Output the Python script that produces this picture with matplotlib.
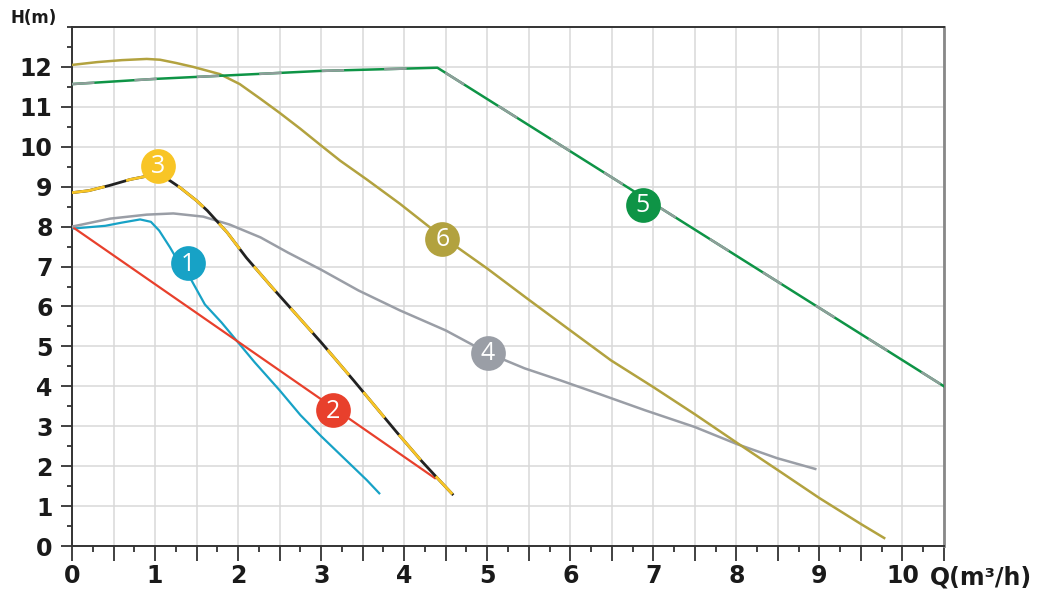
import matplotlib
matplotlib.use("Agg")
import matplotlib.pyplot as plt
from matplotlib.ticker import MultipleLocator

# pump curves, Q (m3/h) vs H (m)
q1 = [0, 0.4, 0.6, 0.82, 0.95, 1.05, 1.18, 1.3, 1.44, 1.6, 1.8, 1.96, 2.2, 2.5, 2.75, 3.0, 3.2, 3.4, 3.55, 3.7]
h1 = [7.95, 8.02, 8.1, 8.18, 8.12, 7.9, 7.48, 7.05, 6.65, 6.05, 5.6, 5.2, 4.6, 3.9, 3.28, 2.75, 2.35, 1.95, 1.65, 1.32]

q2 = [0, 4.37]
h2 = [8.0, 1.7]

q3 = [0, 0.2, 0.45, 0.7, 0.94, 1.05, 1.18, 1.3, 1.5, 1.63, 1.87, 2.1, 2.4, 2.7, 3.0, 3.39, 3.65, 3.91, 4.2, 4.4, 4.58]
h3 = [8.85, 8.9, 9.03, 9.18, 9.28, 9.3, 9.15, 8.98, 8.65, 8.4, 7.85, 7.22, 6.5, 5.8, 5.1, 4.15, 3.5, 2.85, 2.15, 1.7, 1.3]

q4 = [0, 0.46, 0.9, 1.22, 1.58, 1.9, 2.27, 2.6, 3.0, 3.45, 3.95, 4.5, 5.01, 5.45, 5.88, 6.36, 6.9, 7.5, 8.01, 8.49, 8.95]
h4 = [8.0, 8.2, 8.3, 8.33, 8.25, 8.05, 7.73, 7.35, 6.92, 6.4, 5.9, 5.4, 4.83, 4.45, 4.15, 3.8, 3.4, 2.98, 2.55, 2.2, 1.93]

q5 = [0, 1.0, 2.0, 3.0, 4.4, 10.5]
h5 = [11.57, 11.7, 11.8, 11.9, 11.98, 4.0]

q6 = [0, 0.3, 0.6, 0.9, 1.06, 1.25, 1.46, 1.78, 2.02, 2.27, 2.5, 2.75, 3.0, 3.23, 3.55, 3.95, 4.31,
      4.64, 5.0, 5.48, 6.0, 6.49, 7.0, 7.5, 8.01, 8.5, 9.0, 9.5, 9.78]
h6 = [12.05, 12.12, 12.17, 12.2, 12.18, 12.1, 12.0, 11.82, 11.57, 11.2, 10.85, 10.45, 10.03, 9.65, 9.18, 8.57, 7.98,
      7.48, 6.95, 6.2, 5.4, 4.65, 3.98, 3.3, 2.58, 1.9, 1.2, 0.55, 0.2]

# numbered badges
badge_labels = ["1", "2", "3", "4", "5", "6"]
badge_q = [1.4, 3.14, 1.04, 5.01, 6.87, 4.46]
badge_h = [7.08, 3.4, 9.52, 4.83, 8.55, 7.7]
badge_colors = ["#17a2c6", "#e8402c", "#f8c526", "#9a9ea6", "#0e9446", "#b2a23f"]

x_labels = [str(i) for i in range(11)]

fig = plt.figure(figsize=(10.38, 5.91), dpi=100)
ax = fig.add_axes([72 / 1038, 45 / 591, 872 / 1038, 519 / 591])

ax.plot(q1, h1, color="#17a2c6", lw=1.6, zorder=3)
ax.plot(q2, h2, color="#e8402c", lw=1.6, zorder=3)
ax.plot(q4, h4, color="#9a9ea6", lw=1.8, zorder=3)
ax.plot(q6, h6, color="#b2a23f", lw=1.8, zorder=3)
# curve 5: green with grey dashes over it
ax.plot(q5, h5, color="#0e9446", lw=1.8, zorder=3)
ax.plot(q5, h5, color="#8e9e9a", lw=1.8, dashes=(9, 16), zorder=3)
# curve 3: black with yellow dashes
ax.plot(q3, h3, color="#222222", lw=2.0, zorder=3)
ax.plot(q3, h3, color="#f8c526", lw=2.0, dashes=(12, 8), zorder=3)

for lab, q, h, c in zip(badge_labels, badge_q, badge_h, badge_colors):
    ax.plot(q, h, "o", ms=25, color=c, mec="none", zorder=5)
    ax.text(q, h - 0.02, lab, color="white", fontsize=18, ha="center", va="center",
            family=["Open Sans", "DejaVu Sans"], fontweight="normal", zorder=6)

ax.set_xlim(0, 10.5)
ax.set_ylim(0, 13)
ax.xaxis.set_major_locator(MultipleLocator(0.5))
ax.xaxis.set_minor_locator(MultipleLocator(0.25))
ax.yaxis.set_major_locator(MultipleLocator(1))
ax.yaxis.set_minor_locator(MultipleLocator(0.5))
ax.set_xticks(ax.get_xticks())
ax.set_xticklabels([x_labels[int(t)] if t == int(t) and t <= 10 else "" for t in ax.get_xticks()])
ax.set_yticks(range(0, 13))
ax.set_yticklabels([str(i) for i in range(0, 13)])
ax.set_xlim(0, 10.5)
ax.set_ylim(0, 13)

ax.grid(True, which="major", color="#d9d9d9", lw=1.1, zorder=0)
ax.set_axisbelow(True)

ax.tick_params(axis="x", which="major", direction="out", length=11, width=1.3, color="#333333",
               labelsize=17, pad=2)
ax.tick_params(axis="x", which="minor", direction="out", length=4, width=1.3, color="#333333")
ax.tick_params(axis="y", which="major", direction="out", length=8, width=1.3, color="#333333",
               labelsize=17, pad=6)
ax.tick_params(axis="y", which="minor", direction="out", length=3.5, width=1.3, color="#333333")
for lab in ax.get_xticklabels() + ax.get_yticklabels():
    lab.set_fontweight("bold")
    lab.set_color("#1a1a1a")

for side in ["left", "bottom", "top"]:
    ax.spines[side].set_color("#333333")
    ax.spines[side].set_linewidth(1.4)
ax.spines["right"].set_color("#888888")
ax.spines["right"].set_linewidth(2.0)

fig.text(10 / 1038, 1 - 18 / 591, "H(m)", fontsize=12, fontweight="bold", color="#1a1a1a",
         ha="left", va="center")
fig.text(930 / 1038, 1 - 578 / 591, "Q(m³/h)", fontsize=17, fontweight="bold", color="#1a1a1a",
         ha="left", va="center")

fig.savefig("out.png", dpi=100)
